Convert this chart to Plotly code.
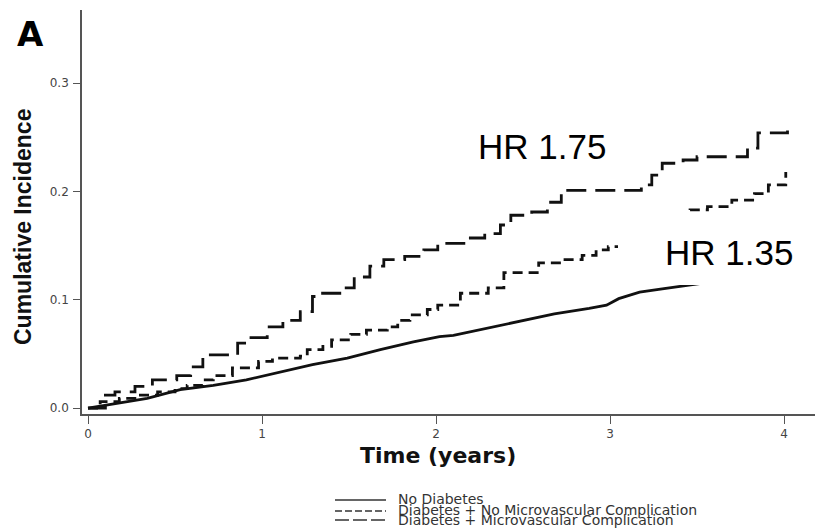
import plotly.graph_objects as go

# Cumulative incidence over follow-up (years)
no_dm_t = [0.0, 0.15, 0.34, 0.53, 0.72, 0.91, 1.10, 1.29, 1.49, 1.68, 1.87, 2.02, 2.10,
           2.30, 2.49, 2.68, 2.88, 2.98, 3.05, 3.17, 3.30, 3.44, 3.70, 4.00]
no_dm_ci = [0.0, 0.004, 0.009, 0.017, 0.021, 0.026, 0.033, 0.040, 0.046, 0.054, 0.061, 0.066, 0.067,
            0.074, 0.080, 0.087, 0.092, 0.095, 0.101, 0.107, 0.110, 0.113, 0.119, 0.126]

dm_nomicro_t = [0.0, 0.07, 0.18, 0.28, 0.40, 0.50, 0.57, 0.66, 0.72, 0.83, 0.98, 1.06, 1.22, 1.26,
                1.35, 1.40, 1.51, 1.60, 1.72, 1.78, 1.85, 1.95, 2.01, 2.14, 2.30, 2.39, 2.59,
                2.72, 2.84, 2.92, 2.99, 3.15, 3.28, 3.40, 3.46, 3.56, 3.70, 3.83, 3.91, 4.01]
dm_nomicro_ci = [0.0, 0.006, 0.009, 0.012, 0.015, 0.018, 0.021, 0.026, 0.030, 0.037, 0.043, 0.046,
                 0.048, 0.054, 0.057, 0.063, 0.068, 0.072, 0.075, 0.081, 0.086, 0.091, 0.095,
                 0.106, 0.111, 0.125, 0.134, 0.137, 0.141, 0.146, 0.149, 0.158, 0.168, 0.176,
                 0.183, 0.186, 0.192, 0.198, 0.206, 0.218]

dm_micro_t = [0.0, 0.10, 0.155, 0.27, 0.37, 0.51, 0.59, 0.66, 0.86, 0.91, 1.03, 1.12, 1.22, 1.29,
              1.32, 1.47, 1.53, 1.62, 1.70, 1.82, 1.93, 2.01, 2.16, 2.28, 2.37, 2.43, 2.55, 2.64,
              2.72, 3.18, 3.24, 3.30, 3.42, 3.50, 3.79, 3.85, 4.02]
dm_micro_ci = [0.0, 0.012, 0.015, 0.020, 0.026, 0.030, 0.038, 0.049, 0.060, 0.065, 0.075, 0.081,
               0.089, 0.103, 0.106, 0.111, 0.121, 0.131, 0.137, 0.140, 0.146, 0.152, 0.157,
               0.161, 0.169, 0.178, 0.181, 0.190, 0.201, 0.206, 0.215, 0.226, 0.229, 0.232,
               0.240, 0.254, 0.264]

x_ticks = [0, 1, 2, 3, 4]
y_ticks = [0.0, 0.1, 0.2, 0.3]
y_tick_text = ["0.0", "0.1", "0.2", "0.3"]

legend_labels = ["No Diabetes",
                 "Diabetes + No Microvascular Complication",
                 "Diabetes + Microvascular Complication"]
hr_labels = ["HR 1.75", "HR 1.35"]

W, H = 815, 530
ML, MR, MT, MB = 82, 0, 10, 116
PW, PH = W - ML - MR, H - MT - MB


def px(x):
    return (x - ML) / PW


def py(y):
    return (H - MB - y) / PH


INK = "#111111"
AXIS = "#555555"

fig = go.Figure()
fig.add_trace(go.Scatter(x=no_dm_t, y=no_dm_ci, mode="lines", name=legend_labels[0],
                         line=dict(color=INK, width=2.8, shape="linear")))
fig.add_trace(go.Scatter(x=dm_nomicro_t, y=dm_nomicro_ci, mode="lines", name=legend_labels[1],
                         line=dict(color=INK, width=2.8, shape="hv", dash="10px,6px")))
fig.add_trace(go.Scatter(x=dm_micro_t, y=dm_micro_ci, mode="lines", name=legend_labels[2],
                         line=dict(color=INK, width=2.8, shape="hv", dash="20px,9px")))

# white panel behind the lower hazard-ratio label
shapes = [dict(type="rect", xref="paper", yref="paper", x0=px(618), x1=px(815),
               y0=py(285), y1=py(214), fillcolor="white", line=dict(width=0), layer="above")]

# legend key lines below the axis title
key_rows = [500, 511, 520]
key_dash = ["solid", "7px,3px", "14px,4px"]
for yy, dsh in zip(key_rows, key_dash):
    shapes.append(dict(type="line", xref="paper", yref="paper", x0=px(335), x1=px(386),
                       y0=py(yy), y1=py(yy), line=dict(color="#333333", width=1.3, dash=dsh)))

annotations = []
for yy, lab in zip([499, 510, 520], legend_labels):
    annotations.append(dict(text=lab, xref="paper", yref="paper", x=px(396), y=py(yy),
                            xanchor="left", yanchor="middle", showarrow=False,
                            font=dict(family="DejaVu Sans", size=14, color="#333333")))

annotations += [
    dict(text="<b>A</b>", xref="paper", yref="paper", x=px(30), y=py(34), xanchor="center",
         yanchor="middle", showarrow=False, font=dict(family="DejaVu Sans", size=34, color="#000")),
    dict(text="<b>Cumulative Incidence</b>", xref="paper", yref="paper", x=px(23), y=py(227),
         xanchor="center", yanchor="middle", textangle=-90, showarrow=False,
         font=dict(family="Liberation Sans", size=23, color="#111")),
    dict(text="<b>Time (years)</b>", xref="paper", yref="paper", x=px(438), y=py(455),
         xanchor="center", yanchor="middle", showarrow=False,
         font=dict(family="DejaVu Sans", size=22, color="#111")),
    dict(text=hr_labels[0], xref="paper", yref="paper", x=px(542), y=py(146),
         xanchor="center", yanchor="middle", showarrow=False,
         font=dict(family="Liberation Sans", size=35, color="#000")),
    dict(text=hr_labels[1], xref="paper", yref="paper", x=px(729), y=py(252),
         xanchor="center", yanchor="middle", showarrow=False,
         font=dict(family="Liberation Sans", size=35, color="#000")),
]

fig.update_layout(
    width=W, height=H,
    margin=dict(l=ML, r=MR, t=MT, b=MB, pad=0),
    paper_bgcolor="white", plot_bgcolor="white",
    showlegend=False,
    shapes=shapes, annotations=annotations,
    xaxis=dict(range=[-0.0345, 4.178], tickvals=x_ticks, ticks="outside", ticklen=8,
               tickwidth=1.3, tickcolor=AXIS, showline=True, linecolor=AXIS, linewidth=1.6,
               showgrid=False, zeroline=False, ticklabelstandoff=0,
               tickfont=dict(family="DejaVu Sans", size=12, color="#444")),
    yaxis=dict(range=[-0.0055, 0.3675], tickvals=y_ticks, ticktext=y_tick_text,
               ticks="outside", ticklen=7, tickwidth=1.3, tickcolor=AXIS, showline=True,
               linecolor=AXIS, linewidth=1.6, showgrid=False, zeroline=False,
               ticklabelstandoff=2,
               tickfont=dict(family="DejaVu Sans", size=12, color="#444")),
)

fig.write_html("out.html")
